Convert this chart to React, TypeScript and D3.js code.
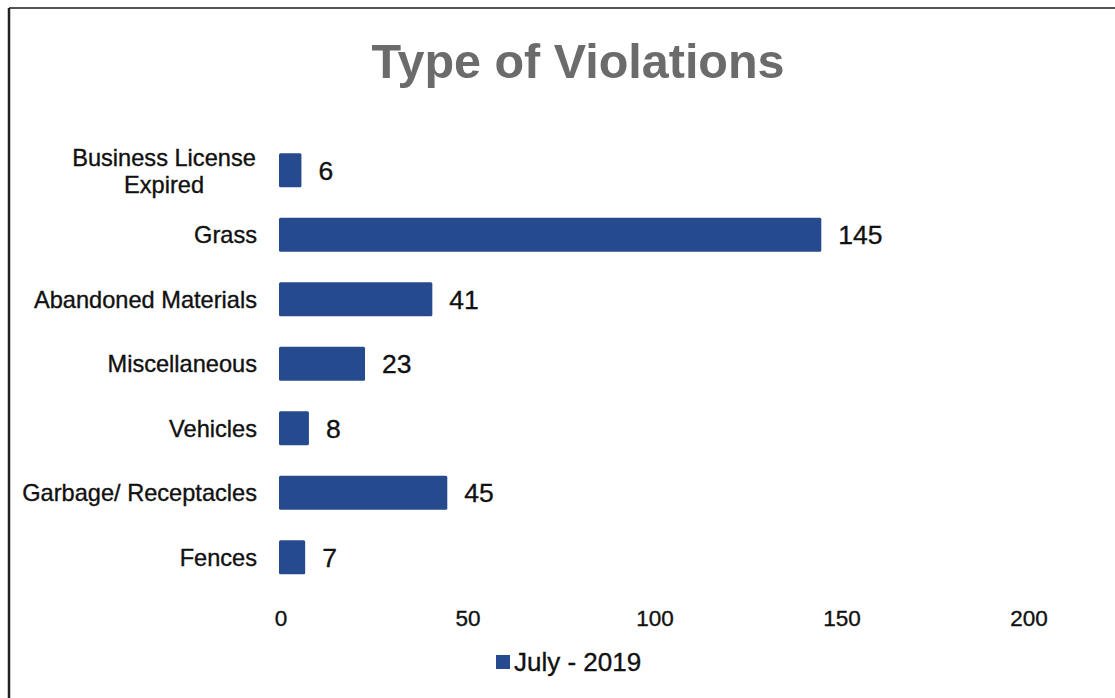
import React from "react";
import * as d3 from "d3";

const categories = [
  "Business License Expired",
  "Grass",
  "Abandoned Materials",
  "Miscellaneous",
  "Vehicles",
  "Garbage/ Receptacles",
  "Fences",
];
const values = [6, 145, 41, 23, 8, 45, 7];
const xTicks = [0, 50, 100, 150, 200];
const seriesName = "July - 2019";
const title = "Type of Violations";

const W = 1115;
const H = 698;
const BAR = "#254a8e";
const FONT = "'Liberation Sans', Arial, Helvetica, sans-serif";

export default function App() {
  const x = d3.scaleLinear().domain([0, 200]).range([279, 1027]);
  const y = d3
    .scaleBand<string>()
    .domain(categories)
    .range([138, 589.5])
    .paddingInner(0.47)
    .paddingOuter(0.235);
  const bw = y.bandwidth();
  const ink = { fill: "#111", stroke: "#111", strokeWidth: 0.35 };

  return (
    <svg
      width={W}
      height={H}
      style={{ position: "absolute", left: 0, top: 0, display: "block", background: "#fff" }}
      fontFamily={FONT}
    >
      <rect x={0} y={0} width={W} height={H} fill="#fff" />
      {/* scanned frame */}
      <line x1={9} y1={8} x2={W} y2={8} stroke="#555" strokeWidth={2} />
      <line x1={9} y1={8} x2={9} y2={H} stroke="#222" strokeWidth={2.5} />

      <text
        x={578}
        y={78}
        textAnchor="middle"
        fontSize={48.5}
        fontWeight="bold"
        fill="#6b6b6b"
      >
        {title}
      </text>

      {categories.map((c, i) => {
        const yc = (y(c) as number) + bw / 2;
        const v = values[i];
        return (
          <g key={c}>
            <rect
              x={x(0)}
              y={y(c)}
              width={x(v) - x(0)}
              height={bw}
              fill={BAR}
              rx={1.5}
            />
            <text x={x(v) + 17} y={yc} dy="0.36em" fontSize={26.5} {...ink}>
              {v}
            </text>
            {c === "Business License Expired" ? (
              <text x={164} y={yc} fontSize={23.6} textAnchor="middle" {...ink}>
                <tspan x={164} dy="-0.2em">Business License</tspan>
                <tspan x={164} dy="1.15em">Expired</tspan>
              </text>
            ) : (
              <text x={257} y={yc} dy="0.36em" fontSize={23.6} textAnchor="end" {...ink}>
                {c}
              </text>
            )}
          </g>
        );
      })}

      {xTicks.map((t) => (
        <text key={t} x={x(t) + 2} y={626} textAnchor="middle" fontSize={22.5} {...ink}>
          {t}
        </text>
      ))}

      <rect x={496} y={655} width={14} height={14} fill={BAR} />
      <text x={514} y={671} fontSize={26} {...ink}>
        {seriesName}
      </text>
    </svg>
  );
}
